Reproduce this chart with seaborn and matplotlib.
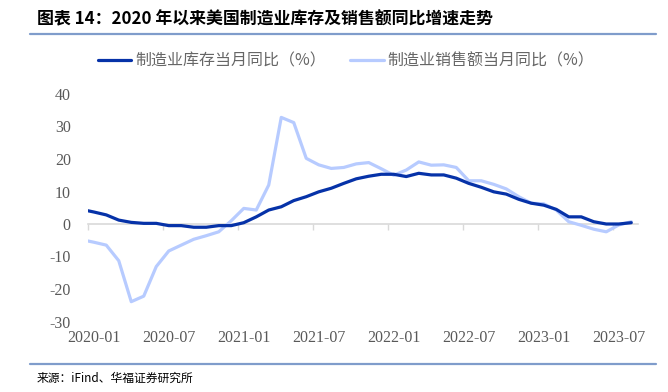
import matplotlib
matplotlib.use("Agg")
import matplotlib.pyplot as plt
import seaborn as sns
import pandas as pd
import numpy as np
from matplotlib.lines import Line2D

months = ["2019-12"] + [f"{y}-{m:02d}" for y in (2020, 2021, 2022, 2023) for m in range(1, 13)][:44]
inventory = [4.5, 3.7, 2.8, 1.2, 0.5, 0.2, 0.2, -0.5, -0.5, -1.0, -1.0, -0.5, -0.5,
             0.4, 2.2, 4.3, 5.3, 7.2, 8.4, 9.9, 11.0, 12.5, 13.9, 14.7, 15.3,
             15.3, 14.6, 15.6, 15.1, 15.1, 14.1, 12.5, 11.3, 9.9, 9.2, 7.6, 6.4,
             5.8, 4.5, 2.2, 2.2, 0.7, 0.0, 0.0, 0.4]
sales = [-4.8, -5.6, -6.5, -11.3, -23.9, -22.2, -13.1, -8.3, -6.5, -4.7, -3.6, -2.4, 1.0,
         4.8, 4.3, 12.0, 32.8, 31.2, 20.2, 18.2, 17.1, 17.4, 18.5, 18.9, 17.0,
         15.0, 16.6, 19.1, 18.1, 18.2, 17.4, 13.3, 13.3, 12.2, 10.8, 8.4, 6.4,
         6.2, 4.3, 0.7, -0.4, -1.6, -2.4, -0.3, 0.7]
series_names = ["制造业库存当月同比（%）", "制造业销售额当月同比（%）"]
colors = ["#0632A8", "#B7CBFF"]
tick_labels = ["2020-01", "2020-07", "2021-01", "2021-07", "2022-01", "2022-07", "2023-01", "2023-07"]
yticks = [-30, -20, -10, 0, 10, 20, 30, 40]

pos = np.arange(len(months)) - 1  # 2020-01 -> 0
df = pd.DataFrame({
    "pos": np.concatenate([pos, pos]),
    "value": inventory + sales,
    "series": [series_names[0]] * len(months) + [series_names[1]] * len(months),
})

sns.set_theme(style="white")
plt.rcParams["font.family"] = ["Noto Sans CJK SC", "DejaVu Sans"]

fig = plt.figure(figsize=(6.68, 3.92), dpi=100)
ax = fig.add_axes([87.5 / 668, 1 - 321.5 / 392, 550 / 668, 227.5 / 392])

sns.lineplot(data=df, x="pos", y="value", hue="series", hue_order=series_names[::-1],
             palette=colors[::-1], linewidth=2.3, ax=ax, legend=False, sort=False)

ax.set_xlim(-0.5, 43.5)
ax.set_ylim(-30, 40)
ax.set_xlabel("")
ax.set_ylabel("")
for s in ax.spines.values():
    s.set_visible(False)

ax.set_yticks(yticks)
ax.set_yticklabels([str(v) for v in yticks], family="Liberation Serif", fontsize=11.5, color="#595959")
ax.tick_params(axis="y", length=0, pad=12)

label_pos = [0, 6, 12, 18, 24, 30, 36, 42]
ax.set_xticks(label_pos)
ax.set_xticklabels(tick_labels, family="Liberation Serif", fontsize=11.5, color="#595959")
ax.tick_params(axis="x", length=0, pad=6)

# axis line at zero with tick marks at category boundaries
sec = ax.secondary_xaxis(30 / 70)
sec.set_xticks([-0.5 + 6 * k for k in range(8)])
sec.set_xticklabels([])
sec.tick_params(axis="x", length=4, width=1, color="#D9D9D9", direction="out")
sec.spines["bottom"].set_color("#D9D9D9")
sec.spines["bottom"].set_linewidth(1.2)
sec.set_zorder(0)
ax.set_zorder(1)
ax.patch.set_alpha(0)

# legend
handles = [Line2D([], [], color=colors[0], lw=2.3), Line2D([], [], color=colors[1], lw=2.3)]
fig.legend(handles, series_names, loc="center", bbox_to_anchor=(346 / 668, 1 - 61 / 392),
           ncol=2, frameon=False, handlelength=2.1, columnspacing=1.5, handletextpad=0.25,
           borderpad=0, borderaxespad=0,
           prop={"family": ["Noto Sans CJK SC", "DejaVu Sans"], "size": 11.5}, labelcolor="#666666")

# title and decorative rules
fig.text(37 / 668, 1 - 19 / 392, "图表 14：2020 年以来美国制造业库存及销售额同比增速走势",
         fontsize=12.2, fontweight="bold", color="#000000", va="center", ha="left")
fig.add_artist(Line2D([30 / 668, 656 / 668], [1 - 34 / 392] * 2, color="#7F9CCB", lw=1.6))
fig.add_artist(Line2D([30 / 668, 656 / 668], [1 - 364 / 392] * 2, color="#7F9CCB", lw=1.6))
fig.text(37 / 668, 1 - 378 / 392, "来源：iFind、华福证券研究所", fontsize=8.5, color="#000000",
         va="center", ha="left")

fig.savefig("out.png", dpi=100)
